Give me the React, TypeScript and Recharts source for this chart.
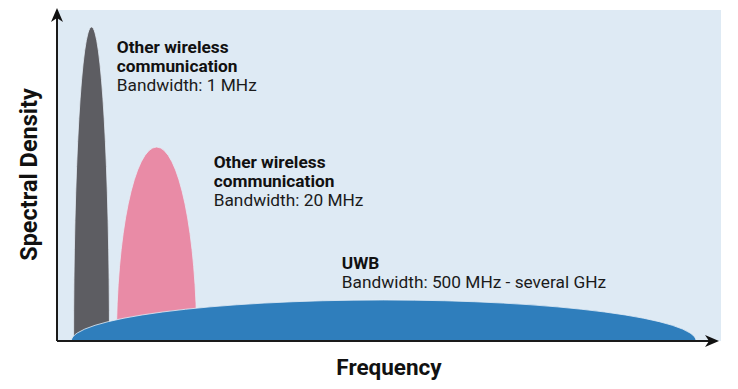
import {
  ComposedChart, XAxis, YAxis, Line, ReferenceArea, ReferenceLine, ReferenceDot, Label
} from "recharts";

// spectrum bands (x: frequency units 0-100, y: spectral density units 0-100)
const bandNames = ["narrowband", "wideband", "uwb"];
const bandCenters = [5.2, 15.0, 49.2];
const bandWidths = [5.4, 12.1, 94.1];
const bandPeaks = [94.9, 58.6, 12.4];
const bandColors = ["#5d5d62", "#e98ba6", "#2f7ebc"];

// annotations
const noteX = [9.0, 23.6, 42.9];
const noteY = [86.9, 52.4, 21.9];
const noteTitles = [
  ["Other wireless", "communication"],
  ["Other wireless", "communication"],
  ["UWB"],
];
const noteBandwidths = [
  "Bandwidth: 1 MHz",
  "Bandwidth: 20 MHz",
  "Bandwidth: 500 MHz - several GHz",
];

const FONT = "Roboto, 'Noto Sans', sans-serif";
const chartData = bandNames.map((name, i) => ({ name, x: bandCenters[i], y: bandPeaks[i] }));

function halfEllipse(color: string) {
  return (props: any) => {
    const { x, y, width, height } = props;
    const base = y + height;
    const d = `M${x},${base} A${width / 2},${height} 0 0 1 ${x + width},${base} Z`;
    return <path d={d} fill={color} stroke="#e4edf6" strokeWidth={0.8} />;
  };
}

function arrowLine(props: any) {
  const { x1, y1, x2, y2 } = props;
  const ang = Math.atan2(y2 - y1, x2 - x1);
  const c = Math.cos(ang), s = Math.sin(ang);
  const len = 14, half = 6, notch = 10;
  const bx = x2 - len * c, by = y2 - len * s;
  const nx = x2 - notch * c, ny = y2 - notch * s;
  const pts = [
    [x2, y2],
    [bx - s * half, by + c * half],
    [nx, ny],
    [bx + s * half, by - c * half],
  ].map((p) => p.join(",")).join(" ");
  return (
    <g>
      <line x1={x1} y1={y1} x2={nx} y2={ny} stroke="#1a1a1a" strokeWidth={2} />
      <polygon points={pts} fill="#111" />
    </g>
  );
}

function noteShape(i: number) {
  return (props: any) => {
    const { cx, cy } = props;
    const titles = noteTitles[i];
    return (
      <text x={cx} y={cy} fontFamily={FONT} fontSize={17.3} fill="#1b1b1b">
        {titles.map((t, k) => (
          <tspan key={k} x={cx} dy={k === 0 ? 0 : 19} fontWeight={700} fill="#111">{t}</tspan>
        ))}
        <tspan x={cx} dy={19}>{noteBandwidths[i]}</tspan>
      </text>
    );
  };
}

export default function App() {
  return (
    <div style={{ position: "absolute", left: 0, top: 0 }}>
      <ComposedChart
        width={738}
        height={389}
        data={chartData}
        margin={{ top: 10, right: 17, left: 0, bottom: 0 }}
      >
        <XAxis
          type="number"
          dataKey="x"
          domain={[0, 100]}
          height={48}
          axisLine={false}
          tickLine={false}
          tick={false}
          allowDataOverflow
        >
          <Label
            content={({ viewBox }: any) => (
              <text
                x={viewBox.x + viewBox.width / 2}
                y={viewBox.y + 34}
                textAnchor="middle"
                fontFamily={FONT}
                fontWeight={700}
                fontSize={22.5}
                fill="#111"
              >
                Frequency
              </text>
            )}
          />
        </XAxis>
        <YAxis
          type="number"
          dataKey="y"
          domain={[0, 100]}
          width={57}
          axisLine={false}
          tickLine={false}
          tick={false}
          allowDataOverflow
        >
          <Label
            content={({ viewBox }: any) => {
              const cx = 37;
              const cy = viewBox.y + viewBox.height / 2 - 1;
              return (
                <text
                  x={cx}
                  y={cy}
                  transform={`rotate(-90, ${cx}, ${cy})`}
                  textAnchor="middle"
                  fontFamily={FONT}
                  fontWeight={700}
                  fontSize={23.5}
                  fill="#111"
                >
                  Spectral Density
                </text>
              );
            }}
          />
        </YAxis>
        <ReferenceArea x1={0} x2={100} y1={0} y2={100} fill="#deeaf4" fillOpacity={1} stroke="none" ifOverflow="visible" />
        {bandNames.map((name, i) => (
          <ReferenceArea
            key={name}
            x1={bandCenters[i] - bandWidths[i] / 2}
            x2={bandCenters[i] + bandWidths[i] / 2}
            y1={0}
            y2={bandPeaks[i]}
            ifOverflow="visible"
            shape={halfEllipse(bandColors[i])}
          />
        ))}
        {noteBandwidths.map((n, i) => (
          <ReferenceDot key={n} x={noteX[i]} y={noteY[i]} r={0} ifOverflow="visible" shape={noteShape(i)} />
        ))}
        <ReferenceLine
          segment={[{ x: 0, y: 0 }, { x: 99.7, y: 0 }]}
          ifOverflow="visible"
          shape={arrowLine}
        />
        <ReferenceLine
          segment={[{ x: 0, y: 0 }, { x: 0, y: 100.6 }]}
          ifOverflow="visible"
          shape={arrowLine}
        />
        <Line dataKey="y" stroke="none" dot={false} activeDot={false} isAnimationActive={false} />
      </ComposedChart>
    </div>
  );
}
